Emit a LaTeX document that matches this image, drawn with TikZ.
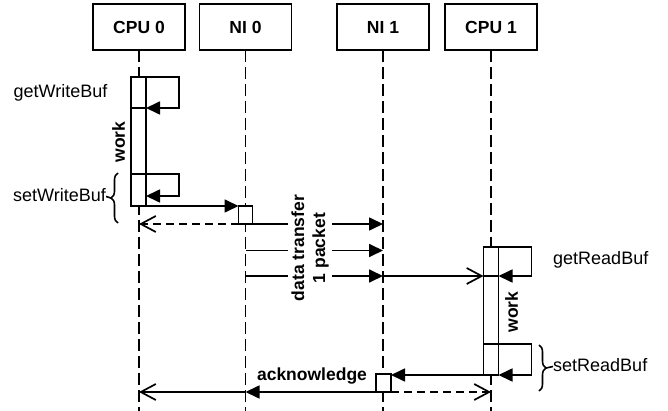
\documentclass[tikz,border=0pt]{standalone}
\usepackage{fontspec}
\setmainfont{Liberation Sans}
\usetikzlibrary{arrows.meta,decorations.pathreplacing,calc}
\begin{document}
\begin{tikzpicture}[x=1pt,y=-1pt,
  head/.style={draw,line width=1.8pt,minimum width=92pt,minimum height=46pt,inner sep=0pt,outer sep=0pt,font=\fontsize{17.5}{20}\selectfont\bfseries},
  lifeline/.style={line width=1.8pt,dash pattern=on 12pt off 5pt},
  act/.style={draw,fill=white,line width=1.7pt,minimum width=15pt,inner sep=0pt,outer sep=0pt},
  call/.style={line width=1.7pt,-{Triangle[length=14pt,width=13pt]}},
  reply/.style={line width=1.7pt,dash pattern=on 8pt off 5pt,-{Straight Barb[length=15pt,width=16pt]}},
  pass/.style={line width=1.7pt,-{Straight Barb[length=15pt,width=16pt]}},
  lbl/.style={font=\fontsize{18}{21}\selectfont,inner sep=0pt},
  blbl/.style={font=\fontsize{17.5}{21}\selectfont\bfseries,inner sep=0pt},
  brc/.style={line width=1.6pt,decorate,decoration={brace,amplitude=7pt}},
  tick/.style={line width=1.6pt}
]
\useasboundingbox (0,0) rectangle (668,411);

% headers
\node[head] (cpu0) at (139,27) {CPU 0};
\node[head] (ni0)  at (245.5,27) {NI 0};
\node[head] (ni1)  at (383,27) {NI 1};
\node[head] (cpu1) at (491,27) {CPU 1};

% lifeline ends
\coordinate (cpu0b) at (139,411);
\coordinate (ni0b)  at (245.5,411);
\coordinate (ni1b)  at (383,411);
\coordinate (cpu1b) at (491,411);
\draw[lifeline] (cpu0.south) -- (cpu0b);
\draw[lifeline] (ni0.south) -- (ni0b);
\draw[lifeline] (ni1.south) -- (ni1b);
\draw[lifeline] (cpu1.south) -- (cpu1b);

% activations CPU 0
\node[act,minimum height=129pt] (a0) at (138.5,141.5) {};
\node[act,minimum height=31pt] (sa1) at (138.5,92.5) {};
\node[act,minimum height=32pt] (sa2) at (138.5,190) {};
% activations CPU 1
\node[act,minimum height=128pt] (a1) at (491,311) {};
\node[act,minimum height=29pt] (sa3) at (491,261.5) {};
\node[act,minimum height=31pt] (sa4) at (491,359.5) {};
% NI boxes
\node[act,minimum width=14pt,minimum height=18pt] (nb0) at (245.5,215) {};
\node[act,minimum height=18pt] (nb1) at (383.5,383) {};

% self calls
\draw[call] (sa1.north east) -- ++(33,0) |- (sa1.south east);
\draw[call] (sa2.north east) -- ++(33,0) |- ($(sa2.south east)+(0,-10)$);
\draw[call] (sa3.north east) -- ++(33,0) |- (sa3.south east);
\draw[call] (sa4.north east) -- ++(33,0) |- (sa4.south east);

% CPU0 -> NI0
\draw[call] (a0.south east) -- (a0.south east -| nb0.west);
\draw[reply] (nb0.south west) -- (nb0.south west -| cpu0);
% data transfer
\coordinate (d2) at (245.5,250.5);
\coordinate (d3) at (245.5,276);
\draw[call] (nb0.south east) -- (nb0.south east -| ni1);
\draw[call] (d2) -- (d2 -| ni1);
\draw[call] (d3) -- (d3 -| ni1);
\draw[pass] (d3 -| ni1) -- (d3 -| a1.west);
\node[blbl,rotate=90,align=center,fill=white,inner sep=3pt] (dt) at (310,248) {data transfer\\1 packet};

% CPU1 -> NI1 and acknowledge
\draw[call] (a1.south west) -- (a1.south west -| nb1.east);
\draw[reply] (nb1.south east) -- (nb1.south east -| cpu1);
\draw[call] (nb1.south west) -- (nb1.south west -| ni0);
\draw[pass] (nb1.south west -| ni0) -- (nb1.south west -| cpu0);
\node[blbl,anchor=base] (ack) at (312,380) {acknowledge};

% labels
\node[lbl,anchor=base] (gw) at (60.5,98) {getWriteBuf};
\node[lbl,anchor=base east] (sw) at (106,201.5) {setWriteBuf};
\node[blbl,rotate=90] (w0) at (118.5,142) {work};
\node[lbl,anchor=base west] (gr) at (553,265) {getReadBuf};
\node[lbl,anchor=base west] (sr) at (553,371.5) {setReadBuf};
\node[blbl,rotate=90] (w1) at (511.5,312) {work};

% braces
\coordinate (b0a) at (118,223);
\coordinate (b0b) at (118,173);
\coordinate (b0t) at (111,198);
\draw[brc] (b0a) -- (b0b);
\draw[tick] ($(sw.base east)+(0,-5)$) -- (b0t);
\coordinate (b1a) at (539,345);
\coordinate (b1b) at (539,391);
\coordinate (b1t) at (546,368);
\draw[brc] (b1a) -- (b1b);
\draw[tick] (b1t) -- ($(sr.base west)+(0,-5)$);
\end{tikzpicture}
\end{document}
